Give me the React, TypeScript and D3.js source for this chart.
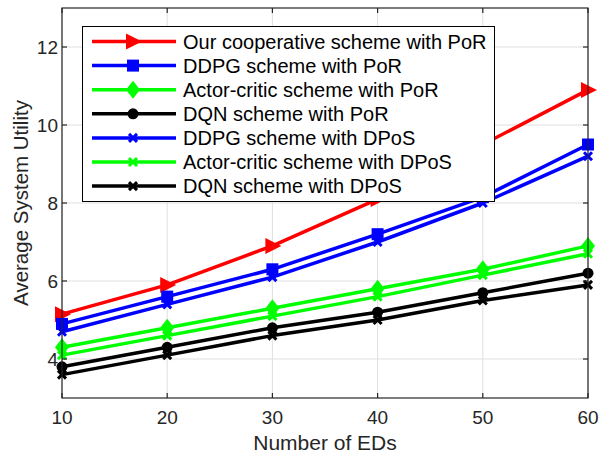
import * as d3 from 'd3';
import React, {useEffect, useRef} from "react";

const WIDTH = 599;
const HEIGHT = 455;
const M = {left: 62, right: 11, top: 8, bottom: 57};

const eds = [10, 20, 30, 40, 50, 60];
const oursPoR = [5.15, 5.9, 6.9, 8.1, 9.5, 10.9];
const ddpgPoR = [4.9, 5.6, 6.3, 7.2, 8.15, 9.5];
const acPoR = [4.3, 4.8, 5.3, 5.8, 6.3, 6.9];
const dqnPoR = [3.8, 4.3, 4.8, 5.2, 5.7, 6.2];
const ddpgDPoS = [4.7, 5.4, 6.1, 7.0, 8.0, 9.2];
const acDPoS = [4.1, 4.6, 5.1, 5.6, 6.15, 6.7];
const dqnDPoS = [3.6, 4.1, 4.6, 5.0, 5.5, 5.9];
const xTicks = [10, 20, 30, 40, 50, 60];
const yTicks = [4, 6, 8, 10, 12];

const series = [
    {name: "Our cooperative scheme with PoR", values: oursPoR, color: "#ff0000", marker: "triangle"},
    {name: "DDPG scheme with PoR", values: ddpgPoR, color: "#0000ff", marker: "square"},
    {name: "Actor-critic scheme with PoR", values: acPoR, color: "#00ff00", marker: "diamond"},
    {name: "DQN scheme with PoR", values: dqnPoR, color: "#000000", marker: "circle"},
    {name: "DDPG scheme with DPoS", values: ddpgDPoS, color: "#0000ff", marker: "x"},
    {name: "Actor-critic scheme with DPoS", values: acDPoS, color: "#00ff00", marker: "x"},
    {name: "DQN scheme with DPoS", values: dqnDPoS, color: "#000000", marker: "x"},
];

const FONT = "'Liberation Sans', Arial, Helvetica, sans-serif";
const AXIS_COLOR = "#262626";

function drawMarker(g: any, kind: string, x: number, y: number, color: string) {
    if (kind === "triangle") {
        g.append("path").attr("d", `M${x - 7},${y - 8}L${x + 9},${y}L${x - 7},${y + 8}Z`).attr("fill", color);
    } else if (kind === "square") {
        g.append("rect").attr("x", x - 6).attr("y", y - 6).attr("width", 12).attr("height", 12).attr("fill", color);
    } else if (kind === "diamond") {
        g.append("path").attr("d", `M${x},${y - 9}L${x + 7},${y}L${x},${y + 9}L${x - 7},${y}Z`).attr("fill", color);
    } else if (kind === "circle") {
        g.append("circle").attr("cx", x).attr("cy", y).attr("r", 5.5).attr("fill", color);
    } else {
        g.append("path").attr("d", `M${x - 4},${y - 4}L${x + 4},${y + 4}M${x - 4},${y + 4}L${x + 4},${y - 4}`)
            .attr("stroke", color).attr("stroke-width", 3).attr("fill", "none");
    }
}

export default function App() {
    const ref = useRef<SVGSVGElement>(null);

    useEffect(() => {
        const svg = d3.select(ref.current);
        svg.selectAll("*").remove();

        const x = d3.scaleLinear().domain([10, 60]).range([M.left, WIDTH - M.right]);
        const y = d3.scaleLinear().domain([3, 13]).range([HEIGHT - M.bottom, M.top]);
        const x0 = M.left, x1 = WIDTH - M.right, y0 = HEIGHT - M.bottom, y1 = M.top;

        svg.append("rect").attr("width", WIDTH).attr("height", HEIGHT).attr("fill", "white");

        // grid
        const grid = svg.append("g").attr("stroke", "#dfdfdf").attr("stroke-width", 1);
        xTicks.forEach(t => grid.append("line").attr("x1", x(t)).attr("x2", x(t)).attr("y1", y0).attr("y2", y1));
        yTicks.forEach(t => grid.append("line").attr("x1", x0).attr("x2", x1).attr("y1", y(t)).attr("y2", y(t)));

        // lines
        const line = d3.line<number>().x((_, i) => x(eds[i])).y(d => y(d));
        const plot = svg.append("g");
        series.forEach(s => {
            plot.append("path").datum(s.values).attr("d", line).attr("fill", "none")
                .attr("stroke", s.color).attr("stroke-width", 3.5).attr("stroke-linejoin", "round");
        });
        series.forEach(s => {
            s.values.forEach((v, i) => drawMarker(plot, s.marker, x(eds[i]), y(v), s.color));
        });

        // box + ticks
        const ax = svg.append("g").attr("stroke", AXIS_COLOR).attr("stroke-width", 1.2);
        ax.append("rect").attr("x", x0).attr("y", y1).attr("width", x1 - x0).attr("height", y0 - y1).attr("fill", "none");
        xTicks.forEach(t => {
            ax.append("line").attr("x1", x(t)).attr("x2", x(t)).attr("y1", y0).attr("y2", y0 - 5);
            ax.append("line").attr("x1", x(t)).attr("x2", x(t)).attr("y1", y1).attr("y2", y1 + 5);
        });
        yTicks.forEach(t => {
            ax.append("line").attr("x1", x0).attr("x2", x0 + 5).attr("y1", y(t)).attr("y2", y(t));
            ax.append("line").attr("x1", x1).attr("x2", x1 - 5).attr("y1", y(t)).attr("y2", y(t));
        });

        const labels = svg.append("g").attr("font-family", FONT).attr("fill", AXIS_COLOR).attr("font-size", 19);
        xTicks.forEach(t => labels.append("text").attr("x", x(t)).attr("y", y0 + 26).attr("text-anchor", "middle").text(t));
        yTicks.forEach(t => labels.append("text").attr("x", x0 - 4).attr("y", y(t) + 7).attr("text-anchor", "end").text(t));
        labels.append("text").attr("x", (x0 + x1) / 2).attr("y", y0 + 52).attr("text-anchor", "middle")
            .attr("font-size", 21).text("Number of EDs");
        labels.append("text").attr("transform", `translate(28,${(y0 + y1) / 2}) rotate(-90)`)
            .attr("text-anchor", "middle").attr("font-size", 20.5).text("Average System Utility");

        // legend
        const lg = svg.append("g");
        lg.append("rect").attr("x", 82.5).attr("y", 26.5).attr("width", 412).attr("height", 175)
            .attr("fill", "white").attr("stroke", "#000").attr("stroke-width", 1);
        series.forEach((s, i) => {
            const ly = 41.5 + i * 24.1;
            lg.append("line").attr("x1", 92).attr("x2", 176).attr("y1", ly).attr("y2", ly)
                .attr("stroke", s.color).attr("stroke-width", 3.5);
            drawMarker(lg, s.marker, 133, ly, s.color);
            lg.append("text").attr("x", 183).attr("y", ly + 7).attr("font-family", FONT)
                .attr("font-size", 20).attr("fill", "#000").text(s.name);
        });
    }, []);

    return (
        <svg ref={ref} width={WIDTH} height={HEIGHT} style={{position: "absolute", left: 0, top: 0}}/>
    );
}
